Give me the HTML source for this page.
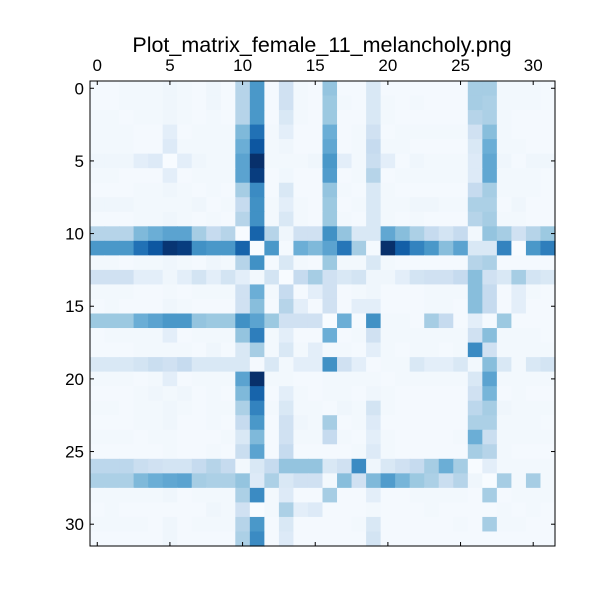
<!DOCTYPE html>
<html><head><meta charset="utf-8"><style>
body{margin:0;background:#fff;}
svg text{font-family:"Liberation Sans",sans-serif;}
</style></head><body>
<svg id="chart" width="600" height="600" xmlns="http://www.w3.org/2000/svg">
<rect width="600" height="600" fill="#fff"/>
<text x="322" y="52" font-size="21.5" text-anchor="middle">Plot_matrix_female_11_melancholy.png</text>
<g id="cells"></g>
<g id="axes"></g>
</svg>
<script>
const rows = [
[.3,.3,.5,.5,.5,.8,.5,.3,.8,.3,3,6,.3,2,.5,.3,4,.3,.3,1.5,.3,.3,.3,.3,.3,.3,3.5,3.5,.5,.5,.5,.3],
[.3,.3,.5,.5,.5,.8,.5,.3,.8,.3,3,6,.3,2,.5,.3,3.8,.5,.3,1.5,.5,.3,.5,.3,.3,.3,3.5,3.3,.5,.5,.5,.3],
[.5,.5,.3,.5,.5,.8,.5,.3,.5,.3,3,6,.3,1.5,.5,.3,3.8,.3,.3,1.5,.5,.3,.3,.3,.3,.3,3,3.3,.5,.3,.3,.3],
[.5,.5,.5,.3,.3,1,.3,.5,.5,.5,4.5,7.5,.5,1,.3,.3,5,.3,.5,2,.3,.5,.5,.5,.5,.5,2,4.3,.5,.3,.3,.3],
[.5,.5,.5,.3,.3,1.3,.5,.5,.5,.5,5,8.5,.5,.8,.3,.3,5.3,.3,.5,2.5,.5,.5,.3,.3,.3,.3,1.5,5,.5,.5,.3,.3],
[.8,.8,.8,1,1.3,0,1,.8,.5,.5,5.5,10,.5,.5,.5,.8,6,1,.5,2.3,1,.3,.8,.5,.5,.5,1.3,5.3,.8,.3,.8,.8],
[.5,.5,.3,.3,.3,1,.3,.5,.5,.5,5.5,9.5,.3,.7,.3,.3,5.8,.3,.5,3,.3,.5,.5,.5,.5,.5,1.3,5.3,.5,.5,.5,.3],
[.3,.3,.3,.5,.5,.8,.5,.3,.5,.3,3.5,6.5,.3,1.5,.3,.3,4,.5,.3,1.5,.5,.3,.3,.3,.3,.3,2.5,3.5,.5,.5,.5,.3],
[.8,.8,.8,.5,.5,.5,.5,.8,.3,.5,2.5,6.3,.5,1,.5,.3,3.8,.3,.5,1.5,.5,.5,.8,.8,.5,.5,3.3,3.3,.3,.8,.3,.3],
[.3,.3,.3,.5,.5,.8,.5,.3,.5,.3,3,6.3,.5,1.5,.5,.3,3.8,.5,.3,1.5,.5,.3,.5,.3,.3,.3,3,3.5,.5,.5,.3,.3],
[3,3,3,4.5,5,5.5,5.5,3.5,2.5,3,0,8,3,.8,2,2,6.3,4,1.5,1.5,5.3,4.3,3.3,2.5,1.8,2.5,.5,4,3.5,2,3,3.8],
[6,6,6,7.5,8.5,9.8,9.5,6.3,6,6,8,0,6,.3,5,4.5,5.5,7.3,3.5,.3,10,8.2,6.8,6,4.3,5.5,1.5,1.5,6.8,0,6,7],
[.5,.5,.3,.5,.5,.8,.5,.3,.8,.5,3,6.3,.3,1.5,.5,.3,3.8,.5,.5,1.5,.5,.3,.3,.3,.3,.3,3,3.3,.3,.3,.3,.3],
[2,2,2,1,1,.8,1,1.8,1,1.8,1,.5,1.8,0,2.5,3.5,2,1.5,1.8,.8,.8,1,1.8,2,2,2.5,4.3,2,1.5,3.5,1.8,1.5],
[.5,.5,.5,.3,.3,.5,.3,.5,.5,.5,2,5,.5,2.5,.3,1,2,.3,.5,.8,.3,.3,.3,.5,.5,.5,4.3,2.5,.3,1,.5,.3],
[.3,.5,.3,.3,.3,.8,.5,.3,.3,.3,2,4.3,.3,3,1,.3,2,.3,1,1,.3,.3,.3,.5,.5,.3,4.3,2.5,.3,1,.3,.3],
[3.8,3.8,3.8,5,5.5,6,6,4,3.8,3.8,6.3,5.5,3.8,2,2,2,0,5,.3,6.3,.5,.5,.3,3.5,2.5,.3,1,.3,3.8,.3,.3,.3],
[.3,.5,.5,.5,.5,1,.3,.5,.5,.5,4,7,.5,1,.3,.3,5,.3,.5,2,.5,.5,.5,.5,.5,.5,2,4.3,.5,.5,.5,.3],
[.3,.3,.3,.5,.5,.5,.5,.3,.8,.3,1.5,3.5,.5,1.5,.5,1,.5,.5,.3,1,.5,.3,.5,.5,.3,.5,6.5,2,.5,.5,.5,.5],
[1.5,1.5,1.5,1.8,2.3,2,2.5,1.5,1.5,1.5,1.5,.3,1.5,.5,1,1,6.3,2,1,.3,.5,.5,1.5,1,1,1.5,.5,4.3,1.5,.5,1.5,1.8],
[.5,.5,.5,.3,.5,1,.3,.5,.5,.5,5.5,10,.5,.5,.3,.3,.5,.5,.5,.5,.3,.5,.5,.5,.5,.5,1.5,5.5,.5,.5,.5,.5],
[.3,.3,.3,.5,.8,.5,.8,.3,.5,.3,4.5,8,.3,1,.5,.3,.5,.5,.3,.8,.5,.3,.3,.3,.3,.3,2,4.7,.3,.5,.3,.3],
[.5,.5,.3,.5,.5,.8,.5,.3,.5,.5,3.3,6.8,.5,1.5,.5,.5,.3,.8,.5,1.8,.5,.3,.3,.3,.3,.3,2.8,3.5,.8,.5,.5,.5],
[.3,.3,.3,.5,.5,.8,.3,.3,.5,.3,2.5,6,.3,2,.8,.5,3.5,.3,.5,1.3,.3,.3,.3,.3,.3,.3,3.3,3.3,.5,.5,.5,.3],
[.5,.5,.5,.3,.5,.5,.3,.3,.3,.5,1.5,4.5,.3,2,.5,.5,2.5,.5,.3,1,.5,.3,.3,.3,.3,.5,5,2.3,.5,.5,.5,.5],
[.3,.3,.3,.3,.3,.5,.3,.3,.5,.3,2.3,5.5,.3,2.5,.3,.3,.3,.3,.5,1.3,.5,.3,.3,.3,.3,.3,3.5,3,.5,.3,.3,.3],
[2.8,2.8,2.8,2.3,2,1.8,1.8,2.5,3,2.5,.5,1.5,2.5,4,4,4,1.5,2,6.5,.8,1.5,2,2.5,3.5,5,3.5,0,1,.5,.5,.5,.5],
[3.3,3.3,3.3,4.5,5,5.3,5.5,3.5,3.3,3.3,4,1.3,3.3,1.5,2,2,.5,4.3,2,4.5,5.8,4.7,3.8,3.3,2.3,3,.8,0,3.5,.5,3.5,.5],
[.5,.5,.5,.5,.5,.8,.3,.5,.5,.5,3.3,6.5,.5,1.3,.3,.3,3.5,.3,.3,1,.3,.3,.5,.5,.5,.5,.3,3.5,.3,.5,.5,.5],
[.3,.5,.3,.3,.3,.3,.3,.3,.8,.5,2,0,.5,3.3,1,1.3,.3,.3,.3,.5,.3,.3,.3,.5,.3,.3,.3,.3,.5,.3,.5,.3],
[.5,.5,.5,.5,.3,.8,.3,.5,.5,.5,3,6,.3,1.5,.3,.3,.3,.3,.5,1.5,.3,.3,.3,.3,.3,.5,.3,3.5,.5,.5,.3,.3],
[.3,.3,.3,.3,.3,.8,.3,.3,.3,.3,3.3,6.5,.3,1.3,.3,.3,.3,.3,.3,1.8,.3,.3,.3,.3,.3,.3,.3,.3,.3,.3,.3,.3]
];
const tickLabels = [0,5,10,15,20,25,30];
const vmax = 10;

const X0=90,Y0=81,W=465,H=465,N=rows.length;
const cw=W/N, ch=H/N;
function xPos(i){return X0+i*cw;}
function yPos(i){return Y0+i*ch;}
const stops=["#f7fbff","#deebf7","#c6dbef","#9ecae1","#6baed6","#4292c6","#2171b5","#08519c","#08306b"];
function hex(h){return [1,3,5].map(k=>parseInt(h.substr(k,2),16));}
function color(v){
  const e = v<1 ? v*0.5 : v;
  let t=Math.max(0,Math.min(1,e/vmax))*(stops.length-1);
  let i=Math.min(stops.length-2,Math.floor(t)),f=t-i;
  const a=hex(stops[i]),b=hex(stops[i+1]);
  return "rgb("+a.map((c,k)=>Math.round(c+(b[k]-c)*f)).join(",")+")";
}
const NS="http://www.w3.org/2000/svg";
const g=document.getElementById("cells");
rows.forEach((row,r)=>row.forEach((v,c)=>{
  const el=document.createElementNS(NS,"rect");
  el.setAttribute("x",xPos(c));el.setAttribute("y",yPos(r));
  el.setAttribute("width",cw+0.6);el.setAttribute("height",ch+0.6);
  el.setAttribute("fill",color(v));
  
  
  g.appendChild(el);
}));
const ax=document.getElementById("axes");
function add(tag,attrs,txt){const e=document.createElementNS(NS,tag);for(const k in attrs)e.setAttribute(k,attrs[k]);if(txt!==undefined)e.textContent=txt;ax.appendChild(e);return e;}
const frame=add("rect",{x:X0,y:Y0,width:W,height:H,fill:"none",stroke:"#000","stroke-width":1});


tickLabels.forEach(t=>{
  const x=xPos(t)+cw/2, y=yPos(t)+ch/2;
  [[x,Y0,x,Y0+4],[x,Y0+H,x,Y0+H-4],[X0,y,X0+4,y],[X0+W,y,X0+W-4,y]].forEach(l=>{
    const e=add("line",{x1:l[0],y1:l[1],x2:l[2],y2:l[3],stroke:"#000","stroke-width":1});
    
    
  });
  const xl=add("text",{x:x,y:Y0-10,"font-size":17,"text-anchor":"middle"},String(t));
  
  
  const yl=add("text",{x:X0-6,y:y+6,"font-size":17,"text-anchor":"end"},String(t));
  
  
});
</script>
</body></html>
